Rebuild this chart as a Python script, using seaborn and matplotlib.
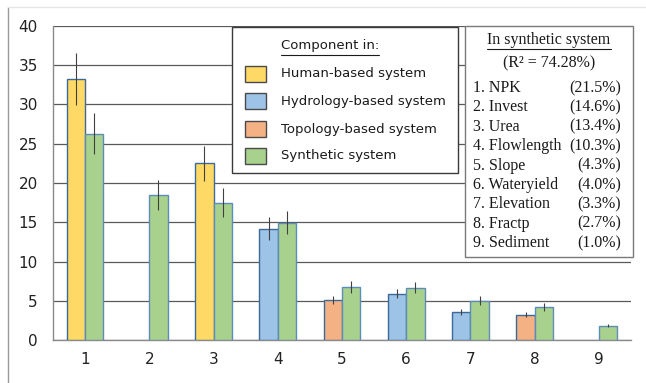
import matplotlib
matplotlib.use("Agg")
import matplotlib.pyplot as plt
import seaborn as sns
import pandas as pd
import numpy as np
from matplotlib.patches import Rectangle
from matplotlib.lines import Line2D

# ---------------- data ----------------
categories = ["1", "2", "3", "4", "5", "6", "7", "8", "9"]
component_type = ["Human", None, "Human", "Hydrology", "Topology", "Hydrology", "Hydrology", "Topology", None]
component_values = [33.2, 0, 22.5, 14.2, 5.1, 5.9, 3.6, 3.2, 0]
component_errors = [3.3, 0, 2.2, 1.45, 0.55, 0.58, 0.4, 0.33, 0]
synthetic_values = [26.3, 18.5, 17.5, 14.95, 6.75, 6.65, 5.0, 4.2, 1.83]
synthetic_errors = [2.6, 1.9, 1.8, 1.5, 0.75, 0.7, 0.55, 0.47, 0.2]

legend_labels = ["Human-based system", "Hydrology-based system", "Topology-based system", "Synthetic system"]
ranking_names = ["1. NPK", "2. Invest", "3. Urea", "4. Flowlength", "5. Slope",
                 "6. Wateryield", "7. Elevation", "8. Fractp", "9. Sediment"]
ranking_pcts = ["(21.5%)", "(14.6%)", "(13.4%)", "(10.3%)", "(4.3%)",
                "(4.0%)", "(3.3%)", "(2.7%)", "(1.0%)"]

fill = {"Human": "#FFD966", "Hydrology": "#9DC3E6", "Topology": "#F4B183", "Synthetic": "#A9D18E"}
edge_comp = "#3C6A98"
edge_syn = "#5B8DB8"

W, H = 646, 383
sns.set_theme(style="white")
plt.rcParams["font.family"] = ["DejaVu Sans"]

fig = plt.figure(figsize=(W / 100, H / 100), dpi=100)
L, R, T, B = 53, 631, 26, 340
ax = fig.add_axes([L / W, 1 - B / H, (R - L) / W, (B - T) / H])

df = pd.DataFrame({
    "cat": categories * 2,
    "role": ["component"] * 9 + ["synthetic"] * 9,
    "value": component_values + synthetic_values,
})
sns.barplot(data=df, x="cat", y="value", hue="role", order=categories,
            hue_order=["component", "synthetic"], width=0.57, errorbar=None,
            legend=False, ax=ax, zorder=3)

comp_bars = ax.containers[0]
syn_bars = ax.containers[1]
for bar, t, v in zip(comp_bars, component_type, component_values):
    if t is None or v == 0:
        bar.set_visible(False)
    else:
        bar.set_facecolor(fill[t])
        bar.set_edgecolor(edge_comp)
        bar.set_linewidth(1.0)
for bar in syn_bars:
    bar.set_facecolor(fill["Synthetic"])
    bar.set_edgecolor(edge_syn)
    bar.set_linewidth(1.0)

# error bars
for bars, vals, errs in [(comp_bars, component_values, component_errors),
                         (syn_bars, synthetic_values, synthetic_errors)]:
    for bar, v, e in zip(bars, vals, errs):
        if v == 0:
            continue
        xc = bar.get_x() + bar.get_width() / 2
        ax.errorbar(xc, v, yerr=e, fmt="none", ecolor="#404040", elinewidth=0.8,
                    capsize=0, zorder=4)

ax.set_xlim(-0.5, 8.5)
ax.set_ylim(0, 40)
ax.set_yticks(np.arange(0, 41, 5))
ax.set_xlabel("")
ax.set_ylabel("")
ax.yaxis.grid(True, color="#5a5a5a", linewidth=0.9, zorder=0)
ax.xaxis.grid(False)
for s in ["top", "right"]:
    ax.spines[s].set_visible(False)
for s in ["left", "bottom"]:
    ax.spines[s].set_visible(True)
    ax.spines[s].set_color("#8a8a8a")
    ax.spines[s].set_linewidth(1.0)
ax.set_xticks(np.arange(-0.5, 9.0, 1.0), minor=True)
ax.tick_params(axis="x", which="major", length=0, pad=9, labelsize=11, colors="#222222")
ax.tick_params(axis="x", which="minor", length=5, width=1.0, color="#8a8a8a", direction="out")
ax.tick_params(axis="y", length=5, width=1.0, color="#8a8a8a", direction="out",
               labelsize=11, pad=6, labelcolor="#222222")


def fx(x):
    return x / W


def fy(y):
    return 1 - y / H


# ------------- component legend (manual box) -------------
lx0, ly0, lx1, ly1 = 232, 27, 458, 173
fig.patches.append(Rectangle((fx(lx0), fy(ly1)), fx(lx1) - fx(lx0), fy(ly0) - fy(ly1),
                             transform=fig.transFigure, facecolor="white",
                             edgecolor="#3a3a3a", linewidth=1.0, zorder=10))
title = fig.text(fx(281), fy(46), "Component in:", fontsize=9.5, ha="left", va="center",
                 color="#1a1a1a", zorder=11)
entry_y = [74, 101, 129, 156]
entry_keys = ["Human", "Hydrology", "Topology", "Synthetic"]
for lab, key, yy in zip(legend_labels, entry_keys, entry_y):
    fig.patches.append(Rectangle((fx(245), fy(yy + 8)), fx(266) - fx(245), fy(yy - 8) - fy(yy + 8),
                                 transform=fig.transFigure, facecolor=fill[key],
                                 edgecolor="#4a4a4a", linewidth=1.0, zorder=11))
    fig.text(fx(281), fy(yy), lab, fontsize=9.5, ha="left", va="center", color="#1a1a1a", zorder=11)

# ------------- ranking box -------------
rx0, ry0, rx1, ry1 = 465, 26, 633, 257
fig.patches.append(Rectangle((fx(rx0), fy(ry1)), fx(rx1) - fx(rx0), fy(ry0) - fy(ry1),
                             transform=fig.transFigure, facecolor="white",
                             edgecolor="#7a7a7a", linewidth=1.0, zorder=10))
serif = ["Liberation Serif", "DejaVu Serif"]
rtitle = fig.text(fx(549), fy(40), "In synthetic system", fontsize=11.5, family=serif,
                  ha="center", va="center", color="#1a1a1a", zorder=11)
fig.text(fx(549), fy(63), "(R² = 74.28%)", fontsize=11.5, family=serif,
         ha="center", va="center", color="#1a1a1a", zorder=11)
for i, (nm, pc) in enumerate(zip(ranking_names, ranking_pcts)):
    yy = 88 + i * 19.4
    fig.text(fx(473), fy(yy), nm, fontsize=11.5, family=serif, ha="left", va="center",
             color="#1a1a1a", zorder=11)
    fig.text(fx(621), fy(yy), pc, fontsize=11.5, family=serif, ha="right", va="center",
             color="#1a1a1a", zorder=11)

# underline titles
fig.canvas.draw()
rend = fig.canvas.get_renderer()
for t, off in [(title, 2), (rtitle, 1)]:
    bb = t.get_window_extent(rend).transformed(fig.transFigure.inverted())
    fig.add_artist(Line2D([bb.x0, bb.x1], [bb.y0 - off / H, bb.y0 - off / H],
                          transform=fig.transFigure, color="#1a1a1a", linewidth=0.8, zorder=12))

# picture frame (left and top edges)
fig.add_artist(Line2D([fx(8), fx(8)], [fy(7), fy(383)], transform=fig.transFigure,
                      color="#9a9a9a", linewidth=1.0))
fig.add_artist(Line2D([fx(8), fx(646)], [fy(7), fy(7)], transform=fig.transFigure,
                      color="#e6e6e6", linewidth=1.0))

fig.savefig("out.png", dpi=100, facecolor="white")
